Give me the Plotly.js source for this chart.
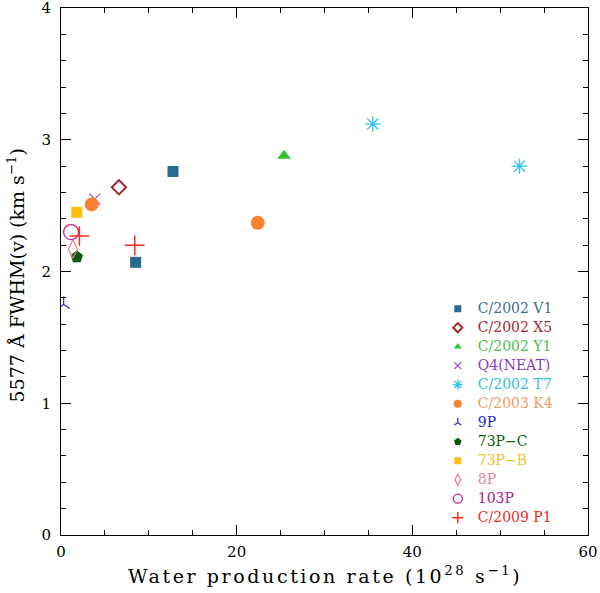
<!DOCTYPE html>
<html>
<head>
<meta charset="utf-8">
<script src="https://cdn.plot.ly/plotly-3.0.1.min.js"></script>
<style>
  body { margin: 0; background: #fff; }
  #fwhm { width: 600px; height: 593px; }
</style>
</head>
<body>
<div id="fwhm"></div>
<script>
/***** 5577 A FWHM gegen Wasserproduktionsrate *****/

// legend names, in legend order
var comets = ['C/2002 V1', 'C/2002 X5', 'C/2002 Y1', 'Q4(NEAT)', 'C/2002 T7', 'C/2003 K4',
              '9P', '73P\u2212C', '73P\u2212B', '8P', '103P', 'C/2009 P1'];

// water production rate (1e28 /s) and FWHM (km/s), one pair of arrays per comet
var v1Q = [8.5, 12.75],   v1W = [2.07, 2.76];
var x5Q = [6.6],          x5W = [2.64];
var y1Q = [25.4],         y1W = [2.88];
var q4Q = [3.85],         q4W = [2.55];
var t7Q = [35.5, 52.2],   t7W = [3.12, 2.80];
var k4Q = [3.5, 22.4],    k4W = [2.51, 2.37];
var p9Q = [0.3],          p9W = [1.75];
var p73cQ = [1.8],        p73cW = [2.11];
var p73bQ = [1.8],        p73bW = [2.45];
var p8Q = [1.35],         p8W = [2.17];
var p103Q = [1.15],       p103W = [2.30];
var p1Q = [2.1, 8.4],     p1W = [2.27, 2.20];

var xTitle = '<span style="letter-spacing:2.6px">Water production rate (10<sup>28</sup> s<sup>\u22121</sup>)</span>';
var yTitle = '5577 \u00c5 FWHM(v) (km s<sup>\u22121</sup>)';

var xs = [v1Q, x5Q, y1Q, q4Q, t7Q, k4Q, p9Q, p73cQ, p73bQ, p8Q, p103Q, p1Q];
var ys = [v1W, x5W, y1W, q4W, t7W, k4W, p9W, p73cW, p73bW, p8W, p103W, p1W];

// marker style per comet
var styles = [
  {symbol: 'square',            color: '#2a6a8e', size: 11, lw: 0,   text: '#3f6c8a'},
  {symbol: 'diamond-open',      color: '#a3262c', size: 11, lw: 2,   text: '#a3262c'},
  {symbol: 'triangle-up',       color: '#33c233', size: 12, lw: 0,   text: '#4cc04c'},
  {symbol: 'x-thin-open',       color: '#a040d0', size: 11, lw: 1.2, text: '#8a3ab8'},
  {symbol: 'asterisk-open',     color: '#33c4ee', size: 13, lw: 1.3, text: '#33bde6'},
  {symbol: 'circle',            color: '#fa7f2e', size: 14, lw: 0,   text: '#f19a63'},
  {symbol: 'y-up-open',         color: '#2a2ac8', size: 10, lw: 1.2, text: '#1f1fd6'},
  {symbol: 'pentagon',          color: '#0e5a10', size: 13, lw: 0,   text: '#125c14'},
  {symbol: 'square',            color: '#ffbf10', size: 11, lw: 0,   text: '#f0c232'},
  {symbol: 'diamond-tall-open', color: '#e8788a', size: 13, lw: 1.2, text: '#e08594'},
  {symbol: 'circle-open',       color: '#c0208c', size: 15, lw: 1.3, text: '#b0208a'},
  {symbol: 'cross-thin-open',   color: '#ff2a1a', size: 14, lw: 1.5, text: '#f5281c'}
];

var data = [];
// the points
for (var i = 0; i < comets.length; i++) {
  data.push({
    x: xs[i],
    y: ys[i],
    type: 'scatter',
    mode: 'markers',
    name: comets[i],
    showlegend: false,
    marker: {
      symbol: styles[i].symbol,
      color: styles[i].color,
      size: styles[i].size,
      line: {color: styles[i].color, width: styles[i].lw}
    },
    hoverinfo: 'x+y+name'
  });
}
// legend entries with smaller symbols
for (var j = 0; j < comets.length; j++) {
  data.push({
    x: [null],
    y: [null],
    type: 'scatter',
    mode: 'markers',
    name: '<span style="color:' + styles[j].text + ';font-size:14px">' + comets[j] + '</span>',
    marker: {
      symbol: styles[j].symbol,
      color: styles[j].color,
      size: Math.round(styles[j].size * 0.6),
      line: {color: styles[j].color, width: styles[j].lw}
    },
    hoverinfo: 'skip'
  });
}

var axisFont = {family: 'DejaVu Serif', size: 15, color: '#000'};
var titleFont = {family: 'DejaVu Serif', size: 19, color: '#000'};

var layout = {
  width: 600,
  height: 593,
  margin: {l: 61, r: 12, t: 8, b: 58},
  paper_bgcolor: '#fff',
  plot_bgcolor: '#fff',
  font: {family: 'DejaVu Serif', color: '#000'},
  showlegend: true,
  legend: {
    x: 0.715, y: 0.457, xanchor: 'left', yanchor: 'top',
    bgcolor: 'rgba(0,0,0,0)',
    font: {family: 'DejaVu Serif', size: 11, color: '#000'},
    itemclick: false, itemdoubleclick: false
  },
  xaxis: {
    range: [0, 60],
    dtick: 20,
    tick0: 0,
    ticks: 'inside',
    ticklen: 10,
    tickwidth: 1,
    tickcolor: '#000',
    minor: {dtick: 5, ticks: 'inside', ticklen: 5, tickcolor: '#000', showgrid: false},
    showline: true,
    linecolor: '#000',
    linewidth: 1,
    mirror: 'allticks',
    showgrid: false,
    zeroline: false,
    tickfont: axisFont,
    ticklabelstandoff: 3,
    automargin: false
  },
  yaxis: {
    range: [0, 4.001],
    dtick: 1,
    tick0: 0,
    ticks: 'inside',
    ticklen: 10,
    tickwidth: 1,
    tickcolor: '#000',
    minor: {dtick: 0.2, ticks: 'inside', ticklen: 5, tickcolor: '#000', showgrid: false},
    showline: true,
    linecolor: '#000',
    linewidth: 1,
    mirror: 'allticks',
    showgrid: false,
    zeroline: false,
    tickfont: axisFont,
    ticklabelstandoff: 6,
    ticklabeloverflow: 'allow',
    automargin: false
  },
  // axis titles as annotations, so they sit where the original has them
  annotations: [
    {text: xTitle, xref: 'paper', yref: 'paper', x: 0.5, y: -0.076,
     xanchor: 'center', yanchor: 'middle', showarrow: false, font: titleFont},
    {text: yTitle, xref: 'paper', yref: 'paper', x: -0.085, y: 0.493, textangle: -90,
     xanchor: 'center', yanchor: 'middle', showarrow: false, font: titleFont}
  ]
};

var config = {displayModeBar: false};

Plotly.newPlot('fwhm', data, layout, config);
</script>
</body>
</html>
